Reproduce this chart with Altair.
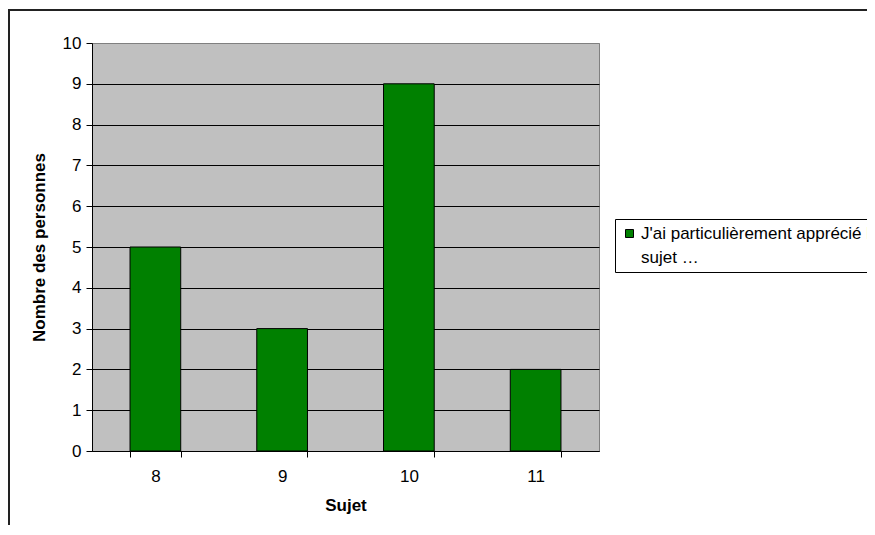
import json
import altair as alt
import pandas as pd

# ---- data ----
SUJETS = ["8", "9", "10", "11"]
PERSONNES = [5, 3, 9, 2]
LEGEND_LINES = ["J'ai particulièrement apprécié le", "sujet …"]
SERIE = " ".join(LEGEND_LINES)
Y_TICKS = list(range(0, 11))

FONT = "Liberation Sans, Arial, sans-serif"

df = pd.DataFrame({"Sujet": SUJETS, "Personnes": PERSONNES, "serie": [SERIE] * len(SUJETS)})

label_expr = json.dumps(LEGEND_LINES, ensure_ascii=False)

bars = alt.Chart(df).mark_bar(stroke="black", strokeWidth=1).encode(
    x=alt.X(
        "Sujet:N",
        sort=SUJETS,
        scale=alt.Scale(paddingInner=0.6, paddingOuter=0.3),
        axis=alt.Axis(
            title="Sujet",
            labelAngle=0,
            grid=False,
            tickBand="extent",
            tickSize=6,
            tickColor="black",
            domainColor="black",
            labelFont=FONT,
            labelFontSize=17,
            labelColor="black",
            labelPadding=11,
            titleFont=FONT,
            titleFontSize=17,
            titleFontWeight="bold",
            titleColor="black",
            titlePadding=13,
        ),
    ),
    y=alt.Y(
        "Personnes:Q",
        scale=alt.Scale(domain=[0, 10], nice=False),
        axis=alt.Axis(
            title="Nombre des personnes",
            values=Y_TICKS,
            grid=True,
            gridColor={"condition": {"test": "datum.value === 10", "value": "#808080"}, "value": "#000000"},
            gridWidth=1,
            tickSize=6,
            tickColor="black",
            domainColor="black",
            labelFont=FONT,
            labelFontSize=17,
            labelColor="black",
            labelPadding=5,
            titleFont=FONT,
            titleFontSize=17,
            titleFontWeight="bold",
            titleColor="black",
            titlePadding=14,
        ),
    ),
    color=alt.Color(
        "serie:N",
        scale=alt.Scale(range=["#008000"]),
        legend=alt.Legend(
            title=None,
            orient="none",
            legendX=523,
            legendY=176,
            labelExpr=label_expr,
            labelFont=FONT,
            labelFontSize=17,
            labelColor="black",
            labelLimit=1000,
            labelOffset=3,
            symbolType="square",
            symbolSize=64,
            symbolStrokeColor="black",
            symbolStrokeWidth=1,
            symbolOpacity=1,
            strokeColor="black",
            fillColor="white",
            padding=6,
        ),
    ),
)

border = alt.Chart(alt.Data(values=[{"b": 1}])).mark_rect(
    fill="transparent", stroke="#222222", strokeWidth=2
).encode(
    x=alt.value(-83), y=alt.value(-33), x2=alt.value(1000), y2=alt.value(1000)
)

chart = alt.layer(border, bars).properties(
    width=507,
    height=408,
    padding={"left": 84, "top": 35, "right": 268, "bottom": 74},
    autosize=alt.AutoSizeParams(type="none"),
    background="white",
).configure(
    style={"guide-label": {"lineHeight": 24}},
    view={"stroke": "#808080", "fill": "#C0C0C0"},
)

chart.save("out.html", embed_options={"renderer": "svg", "actions": False})
